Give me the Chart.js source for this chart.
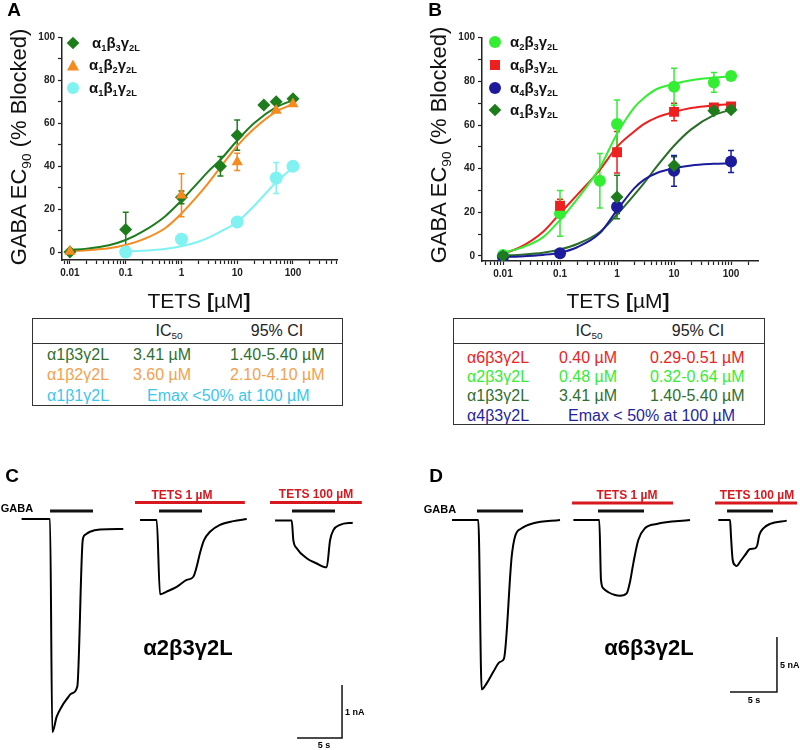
<!DOCTYPE html>
<html>
<head>
<meta charset="utf-8">
<script src="https://cdn.jsdelivr.net/npm/chart.js@4.4.0/dist/chart.umd.min.js"></script>
<style>
body { margin: 0; background: #fff; font-family: "Liberation Sans", Arial, sans-serif; }
#fig { position: relative; width: 800px; height: 750px; overflow: hidden; background: #fff; }
canvas { position: absolute; }
.t { position: absolute; white-space: nowrap; line-height: 1; }
.c { transform: translate(-50%, -50%); }
.l { transform: translateY(-50%); }
sub { font-size: 62%; vertical-align: -0.35em; line-height: 0; }
.ytitle { font-size: 22px; color: #111; transform: translate(-50%, -50%) rotate(-90deg); }
.xtitle { font-size: 21px; color: #111; }
.leg { font-size: 15px; font-weight: bold; color: #111; }
.mk { position: absolute; transform: translate(-50%, -50%); }
.diamond { width: 9px; height: 9px; transform: translate(-50%, -50%) rotate(45deg); }
.tri { width: 0; height: 0; border-left: 6.5px solid transparent; border-right: 6.5px solid transparent; }
.circ { width: 12px; height: 12px; border-radius: 50%; }
.sq { width: 10px; height: 10px; }
.box { position: absolute; border: 1.5px solid #333; box-sizing: border-box; }
.hline { position: absolute; border-top: 1.2px solid #333; }
.tb { font-size: 16px; }
.lbl { font-size: 19px; font-weight: bold; }
.sm { font-size: 11px; font-weight: bold; }
.red { color: #d8181f; font-size: 12px; font-weight: bold; }
.big { font-size: 22px; font-weight: bold; }
.tiny { font-size: 9px; font-weight: bold; }
</style>
</head>
<body>
<div id="fig">
  <canvas id="chartA" width="400" height="290" style="left:0;top:0"></canvas>
  <canvas id="chartB" width="400" height="290" style="left:400px;top:0"></canvas>
  <canvas id="chartC" width="400" height="320" style="left:0;top:430px"></canvas>
  <canvas id="chartD" width="400" height="320" style="left:400px;top:430px"></canvas>

  <!-- panel letters -->
  <div class="t c lbl" style="left:14px;top:9px">A</div>
  <div class="t c lbl" style="left:435px;top:9px">B</div>
  <div class="t c lbl" style="left:12px;top:475px">C</div>
  <div class="t c lbl" style="left:436px;top:475px">D</div>

  <!-- axis titles -->
  <div class="t ytitle" style="left:19px;top:147px">GABA EC<sub>90</sub> (% Blocked)</div>
  <div class="t ytitle" style="left:439px;top:145px">GABA EC<sub>90</sub> (% Blocked)</div>
  <div class="t c xtitle" style="left:199px;top:300px">TETS <b>[</b>µM<b>]</b></div>
  <div class="t c xtitle" style="left:618px;top:300px">TETS <b>[</b>µM<b>]</b></div>

  <!-- legend A -->
  <div class="mk diamond" style="left:73px;top:43px;background:#1d7d1d"></div>
  <div class="t l leg" style="left:92px;top:42px">α<sub>1</sub>β<sub>3</sub>γ<sub>2L</sub></div>
  <div class="mk tri" style="left:73px;top:65px;border-bottom:11px solid #f68b1f"></div>
  <div class="t l leg" style="left:89px;top:64px">α<sub>1</sub>β<sub>2</sub>γ<sub>2L</sub></div>
  <div class="mk circ" style="left:73px;top:88px;background:#80f2f2"></div>
  <div class="t l leg" style="left:89px;top:87px">α<sub>1</sub>β<sub>1</sub>γ<sub>2L</sub></div>

  <!-- legend B -->
  <div class="mk circ" style="left:495px;top:42px;background:#33ee33"></div>
  <div class="t l leg" style="left:510px;top:41px">α<sub>2</sub>β<sub>3</sub>γ<sub>2L</sub></div>
  <div class="mk sq" style="left:495px;top:65px;background:#ee1f1f"></div>
  <div class="t l leg" style="left:510px;top:64px">α<sub>6</sub>β<sub>3</sub>γ<sub>2L</sub></div>
  <div class="mk circ" style="left:495px;top:88px;background:#1b1b9c"></div>
  <div class="t l leg" style="left:510px;top:87px">α<sub>4</sub>β<sub>3</sub>γ<sub>2L</sub></div>
  <div class="mk diamond" style="left:495px;top:110px;background:#1d7d1d"></div>
  <div class="t l leg" style="left:510px;top:109px">α<sub>1</sub>β<sub>3</sub>γ<sub>2L</sub></div>

  <!-- table A -->
  <div class="box" style="left:32px;top:318px;width:311px;height:88px"></div>
  <div class="hline" style="left:32px;top:343px;width:311px"></div>
  <div class="t c tb" style="left:169px;top:331px;color:#222">IC<sub>50</sub></div>
  <div class="t c tb" style="left:277px;top:331px;color:#222">95% CI</div>
  <div class="t l tb" style="left:47px;top:355px;color:#2f6f2f">α1β3γ2L</div>
  <div class="t l tb" style="left:133px;top:355px;color:#2f6f2f">3.41 µM</div>
  <div class="t l tb" style="left:230px;top:355px;color:#2f6f2f">1.40-5.40 µM</div>
  <div class="t l tb" style="left:47px;top:375px;color:#f5a04d">α1β2γ2L</div>
  <div class="t l tb" style="left:133px;top:375px;color:#f5a04d">3.60 µM</div>
  <div class="t l tb" style="left:230px;top:375px;color:#f5a04d">2.10-4.10 µM</div>
  <div class="t l tb" style="left:47px;top:396px;color:#3cc6ee">α1β1γ2L</div>
  <div class="t l tb" style="left:147px;top:396px;color:#3cc6ee">Emax &lt;50% at 100 µM</div>

  <!-- table B -->
  <div class="box" style="left:453px;top:318px;width:312px;height:107px"></div>
  <div class="hline" style="left:453px;top:343px;width:312px"></div>
  <div class="t c tb" style="left:589px;top:331px;color:#222">IC<sub>50</sub></div>
  <div class="t c tb" style="left:698px;top:331px;color:#222">95% CI</div>
  <div class="t l tb" style="left:467px;top:358px;color:#ee2222">α6β3γ2L</div>
  <div class="t l tb" style="left:559px;top:358px;color:#ee2222">0.40 µM</div>
  <div class="t l tb" style="left:650px;top:358px;color:#ee2222">0.29-0.51 µM</div>
  <div class="t l tb" style="left:467px;top:377px;color:#33ee33">α2β3γ2L</div>
  <div class="t l tb" style="left:559px;top:377px;color:#33ee33">0.48 µM</div>
  <div class="t l tb" style="left:650px;top:377px;color:#33ee33">0.32-0.64 µM</div>
  <div class="t l tb" style="left:467px;top:396px;color:#2f6f2f">α1β3γ2L</div>
  <div class="t l tb" style="left:559px;top:396px;color:#2f6f2f">3.41 µM</div>
  <div class="t l tb" style="left:650px;top:396px;color:#2f6f2f">1.40-5.40 µM</div>
  <div class="t l tb" style="left:467px;top:416px;color:#1f1f9f">α4β3γ2L</div>
  <div class="t l tb" style="left:568px;top:416px;color:#1f1f9f">Emax &lt; 50% at 100 µM</div>

  <!-- trace labels C -->
  <div class="t c sm" style="left:17px;top:508px">GABA</div>
  <div class="t c red" style="left:182px;top:495px">TETS 1 µM</div>
  <div class="t c red" style="left:316px;top:494px">TETS 100 µM</div>
  <div class="t c big" style="left:188px;top:648px">α2β3γ2L</div>
  <div class="t l tiny" style="left:345px;top:712px">1 nA</div>
  <div class="t c tiny" style="left:324px;top:745px">5 s</div>

  <!-- trace labels D -->
  <div class="t c sm" style="left:440px;top:509px">GABA</div>
  <div class="t c red" style="left:627px;top:495px">TETS 1 µM</div>
  <div class="t c red" style="left:757px;top:495px">TETS 100 µM</div>
  <div class="t c big" style="left:649px;top:648px">α6β3γ2L</div>
  <div class="t l tiny" style="left:780px;top:665px">5 nA</div>
  <div class="t c tiny" style="left:754px;top:700px">5 s</div>
</div>

<script>
// ---- panel A: inhibition of α1 subunit receptors (TETS µM, % blocked)
var a1b3A_x = [0.01, 0.1, 1, 5, 10, 30, 50, 100];
var a1b3A_y = [0, 10.5, 25.5, 40, 54.5, 68.5, 70, 71.5];
var a1b3A_err = [0, 8, 3, 4.5, 7, 0, 0, 0];
var a1b2A_x = [0.01, 1, 10, 50, 100];
var a1b2A_y = [0.3, 26.5, 42, 66, 69];
var a1b2A_err = [1, 10, 4, 0, 0];
var a1b1A_x = [0.1, 1, 10, 50, 100];
var a1b1A_y = [0, 6, 14, 34.5, 40];
var a1b1A_err = [0, 0, 1.5, 7.2, 0];

var fitX = [0.01, 0.02, 0.05, 0.1, 0.2, 0.5, 1, 2, 3, 5, 10, 20, 50, 100];
var fitA_a1b3 = [1, 1.6, 3.2, 5.6, 9.5, 16.5, 24, 32.5, 37.5, 43, 52, 60, 67.5, 70.8];
var fitA_a1b2 = [0.5, 0.9, 1.8, 3.3, 5.8, 11, 18, 26.5, 32, 39.5, 49.5, 57.5, 65.5, 69];
var fitA_a1b1_x = [0.1, 0.2, 0.5, 1, 2, 3, 5, 10, 20, 50, 100];
var fitA_a1b1 = [0.3, 0.6, 1.4, 2.7, 4.8, 6.6, 9.5, 14, 21.5, 32.5, 39.5];

// ---- panel B: β3 receptors with different α subunits
var a2b3_x = [0.01, 0.1, 0.5, 1, 10, 50, 100];
var a2b3_y = [0.5, 19.5, 34.5, 60.5, 77.5, 79.5, 82.5];
var a2b3_err = [0, 10.5, 12.5, 11, 8.5, 4.5, 0];
var a6b3_x = [0.1, 1, 10, 50, 100];
var a6b3_y = [23, 47.5, 66, 68, 68.5];
var a6b3_err = [3, 9.5, 4, 1.5, 0];
var a4b3_x = [0.01, 0.1, 1, 10, 100];
var a4b3_y = [-0.5, 1.2, 22.5, 39, 43.3];
var a4b3_err = [0, 0, 3, 7, 5];
var a1b3B_x = [0.01, 1, 10, 50, 100];
var a1b3B_y = [0, 27, 41.5, 66.5, 67];
var a1b3B_err = [0, 10, 4, 0, 0];

var fitB_a2b3 = [1.5, 3.6, 8.5, 16.5, 26, 40.5, 56, 68, 72.5, 76.5, 78.8, 80.5, 81.8, 82.3];
var fitB_a6b3 = [1, 4, 11, 19.5, 28, 39.5, 50, 57, 60.5, 63.5, 66, 67.8, 69, 69.5];
var fitB_a4b3 = [-0.5, -0.2, 0.5, 1.5, 4, 10.5, 21, 31, 35, 38, 40.2, 41.5, 42.2, 42.5];
var fitB_a1b3 = [0.2, 0.6, 1.5, 3, 5.5, 11, 19, 28, 33.5, 41, 50.5, 58, 64.5, 67];

var xLabelValues = [0.01, 0.1, 1, 10, 100];
var yLabelValues = [0, 20, 40, 60, 80, 100];

// ---- panel C: α2β3γ2L currents (time s, current nA)
var c1_t = [2.4, 5.56, 5.81, 6.3, 6.85, 7.41, 7.96, 8.59, 9.19, 9.44, 10.0, 11.1, 13.7];
var c1_i = [0, 0, -4.02, -3.73, -3.54, -3.40, -3.29, -3.16, -0.40, -0.30, -0.24, -0.2, -0.19];
var c2_t = [15.56, 17.41, 17.78, 18.52, 19.63, 20.74, 21.48, 21.85, 22.22, 22.67, 23.33, 24.44, 25.93, 27.41];
var c2_i = [-0.02, -0.02, -1.42, -1.37, -1.28, -1.15, -1.09, -0.9, -0.64, -0.40, -0.24, -0.11, -0.04, 0];
var c3_t = [30.56, 32.41, 32.59, 32.96, 34.07, 35.19, 36.11, 36.3, 36.67, 37.04, 37.78, 39.19];
var c3_i = [-0.03, -0.03, -0.4, -0.55, -0.74, -0.84, -0.91, -0.91, -0.4, -0.21, -0.11, -0.07];
var gabaC = [[5.56, 10.33], [17.67, 22.44], [32.44, 37.22]];
var tetsC = [[15, 27.2], [30, 40.2]];

// ---- panel D: α6β3γ2L currents
var d1_t = [5.53, 8.33, 8.69, 9.22, 9.93, 10.64, 11.06, 11.88, 12.23, 12.94, 14.18, 17.02];
var d1_i = [0, 0, -15.4, -14.85, -13.8, -12.9, -12.6, -3.33, -1.52, -0.76, -0.3, 0];
var d2_t = [18.44, 21.2, 21.38, 21.63, 22.16, 22.87, 23.4, 24.11, 24.47, 24.82, 25.35, 26.06, 27.3, 30.85];
var d2_i = [0, 0, -5.45, -6.21, -6.57, -6.82, -6.88, -6.67, -5.61, -3.94, -1.82, -0.75, -0.36, 0];
var d3_t = [33.86, 35.11, 35.21, 35.39, 35.64, 35.82, 36.17, 36.7, 37.23, 37.77, 38.01, 38.22, 38.65, 39.36, 41.14];
var d3_i = [0, 0, -1.5, -3.64, -4.1, -4.18, -3.8, -3.2, -2.64, -2.58, -2.27, -1.36, -0.76, -0.36, -0.06];
var gabaD = [[8.19, 13.09], [21.06, 25.96], [34.79, 39.68]];
var tetsD = [[18.3, 29.04], [33.51, 42.23]];

var AXIS = "#222";
var FONT = "'Liberation Sans', Arial, sans-serif";

function pts(xs, ys) {
    return xs.map(function (x, i) { return { x: x, y: ys[i] }; });
}

// error bars drawn below the markers, through the chart scales
var errorBars = {
    id: "errorBars",
    beforeDatasetsDraw: function (chart) {
        var ctx = chart.ctx, xs = chart.scales.x, ys = chart.scales.y;
        chart.data.datasets.forEach(function (ds) {
            if (!ds.errors) return;
            ctx.save();
            ctx.strokeStyle = ds.backgroundColor;
            ctx.lineWidth = 1.5;
            ds.data.forEach(function (p, i) {
                var e = ds.errors[i];
                if (!e) return;
                var x = xs.getPixelForValue(p.x);
                var top = ys.getPixelForValue(p.y + e);
                var bot = ys.getPixelForValue(p.y - e);
                ctx.beginPath();
                ctx.moveTo(x, top); ctx.lineTo(x, bot);
                ctx.moveTo(x - 3, top); ctx.lineTo(x + 3, top);
                ctx.moveTo(x - 3, bot); ctx.lineTo(x + 3, bot);
                ctx.stroke();
            });
            ctx.restore();
        });
    },
};

function markers(xs, ys, errs, color, style, r, order) {
    return {
        data: pts(xs, ys),
        errors: errs,
        pointStyle: style,
        pointRadius: r,
        backgroundColor: color,
        borderColor: color,
        borderWidth: 0,
        showLine: false,
        order: order,
    };
}

function curve(xs, ys, color) {
    return {
        data: pts(xs, ys),
        borderColor: color,
        backgroundColor: color,
        borderWidth: 2,
        pointRadius: 0,
        showLine: true,
        cubicInterpolationMode: "monotone",
        order: 10,
    };
}

function logTicks(min, max) {
    var out = [];
    for (var k = -3; k <= 3; k++) {
        for (var m = 1; m <= 9; m++) {
            var v = Number((m * Math.pow(10, k)).toPrecision(6));
            if (v >= min && v <= max) out.push({ value: v });
        }
    }
    return out;
}

function doseOptions(xmin, xmax, ymin, yLeft, padRight, padTop, xHeight) {
    return {
        responsive: false,
        animation: false,
        layout: { padding: { left: 0, right: padRight, top: padTop, bottom: 0 } },
        plugins: { legend: { display: false }, tooltip: { enabled: false } },
        scales: {
            x: {
                type: "logarithmic",
                min: xmin,
                max: xmax,
                afterFit: function (s) { s.height = xHeight; },
                afterBuildTicks: function (s) { s.ticks = logTicks(xmin, xmax); },
                ticks: {
                    autoSkip: false,
                    maxRotation: 0,
                    padding: 3,
                    color: AXIS,
                    font: { family: FONT, size: 10, weight: "bold" },
                    callback: function (v) {
                        return xLabelValues.some(function (l) { return Math.abs(l - v) < 1e-9; }) ? String(v) : "";
                    },
                },
                grid: { drawOnChartArea: false, tickLength: 4, tickColor: AXIS, tickWidth: 1.2 },
                border: { color: AXIS, width: 1.5 },
            },
            y: {
                min: ymin,
                max: 100,
                afterFit: function (s) { s.width = yLeft; },
                afterBuildTicks: function (s) {
                    var t = [];
                    for (var v = 0; v <= 100; v += 10) t.push({ value: v });
                    s.ticks = t;
                },
                ticks: {
                    padding: 3,
                    color: AXIS,
                    font: { family: FONT, size: 10, weight: "bold" },
                    callback: function (v) { return yLabelValues.indexOf(v) >= 0 ? String(v) : ""; },
                },
                grid: { drawOnChartArea: false, tickLength: 4, tickColor: AXIS, tickWidth: 1.2 },
                border: { color: AXIS, width: 1.5 },
            },
        },
    };
}

new Chart(document.getElementById("chartA"), {
    type: "scatter",
    data: {
        datasets: [
            markers(a1b2A_x, a1b2A_y, a1b2A_err, "#f68b1f", "triangle", 6.5, 0),
            markers(a1b3A_x, a1b3A_y, a1b3A_err, "#1d7d1d", "rectRot", 6.5, 1),
            markers(a1b1A_x, a1b1A_y, a1b1A_err, "#80f2f2", "circle", 6.5, 2),
            curve(fitX, fitA_a1b3, "#1d7d1d"),
            curve(fitX, fitA_a1b2, "#f68b1f"),
            curve(fitA_a1b1_x, fitA_a1b1, "#80f2f2"),
        ],
    },
    options: doseOptions(0.0072, 616, -3.7, 62, 63, 37.5, 30),
    plugins: [errorBars],
});

new Chart(document.getElementById("chartB"), {
    type: "scatter",
    data: {
        datasets: [
            markers(a1b3B_x, a1b3B_y, a1b3B_err, "#1d7d1d", "rectRot", 6.5, 0),
            markers(a4b3_x, a4b3_y, a4b3_err, "#1b1b9c", "circle", 6, 1),
            markers(a6b3_x, a6b3_y, a6b3_err, "#ee1f1f", "rect", 7, 2),
            markers(a2b3_x, a2b3_y, a2b3_err, "#33ee33", "circle", 6, 3),
            curve(fitX, fitB_a2b3, "#33ee33"),
            curve(fitX, fitB_a6b3, "#ee1f1f"),
            curve(fitX, fitB_a4b3, "#1b1b9c"),
            curve(fitX, fitB_a1b3, "#2a6e2a"),
        ],
    },
    options: doseOptions(0.00428, 297, -2.3, 82, 42, 37.7, 29),
    plugins: [errorBars],
});

// ---- current traces
function segment(a, b, level, color, width) {
    return {
        data: [{ x: a, y: level }, { x: b, y: level }],
        borderColor: color,
        borderWidth: width,
        pointRadius: 0,
        showLine: true,
    };
}

function traceChart(id, traces, gaba, tets, gabaLevel, tetsLevel, bar, range) {
    var ds = [];
    traces.forEach(function (tr) {
        ds.push({
            data: pts(tr[0], tr[1]),
            borderColor: "#000",
            borderWidth: 2,
            pointRadius: 0,
            showLine: true,
            cubicInterpolationMode: "monotone",
        });
    });
    gaba.forEach(function (g) { ds.push(segment(g[0], g[1], gabaLevel, "#111", 3)); });
    tets.forEach(function (g) { ds.push(segment(g[0], g[1], tetsLevel, "#d8181f", 3)); });
    // scale bar: bar = [corner time, corner current, seconds, nA]
    ds.push({
        data: [
            { x: bar[0] - bar[2], y: bar[1] },
            { x: bar[0], y: bar[1] },
            { x: bar[0], y: bar[1] + bar[3] },
        ],
        borderColor: "#111",
        borderWidth: 1.5,
        pointRadius: 0,
        showLine: true,
    });
    new Chart(document.getElementById(id), {
        type: "scatter",
        data: { datasets: ds },
        options: {
            responsive: false,
            animation: false,
            layout: { padding: 0 },
            plugins: { legend: { display: false }, tooltip: { enabled: false } },
            scales: {
                x: { type: "linear", display: false, min: range[0], max: range[1] },
                y: { type: "linear", display: false, min: range[2], max: range[3] },
            },
        },
    });
}

traceChart("chartC", [[c1_t, c1_i], [c2_t, c2_i], [c3_t, c3_i]], gabaC, tetsC, 0.15, 0.31,
    [38, -4.13, 5, 1], [0, 44.44, -4.358, 1.679]);
traceChart("chartD", [[d1_t, d1_i], [d2_t, d2_i], [d3_t, d3_i]], gabaD, tetsD, 0.82, 1.55,
    [40.1, -15.64, 5, 5], [0, 42.55, -20.91, 8.18]);
</script>
</body>
</html>
